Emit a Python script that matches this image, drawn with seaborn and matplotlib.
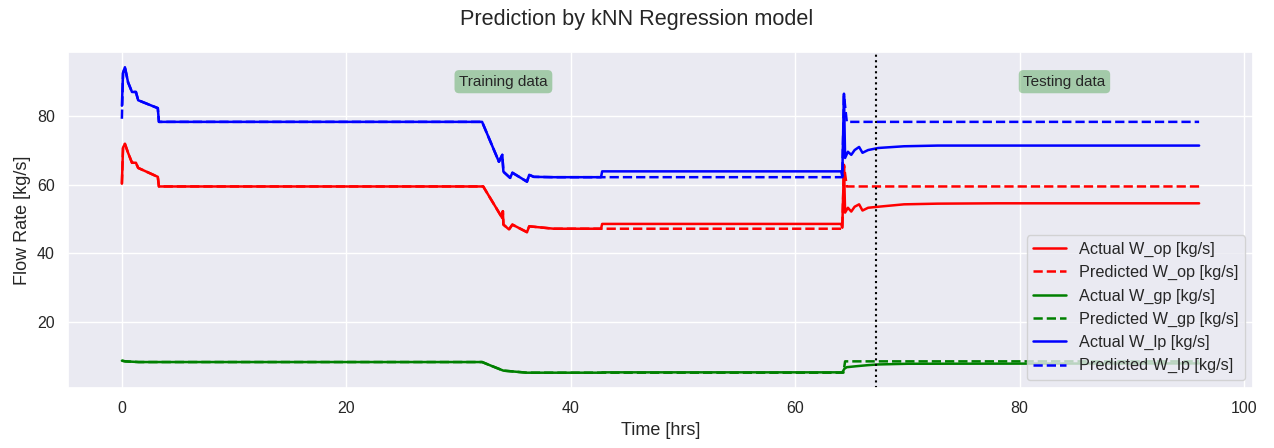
import matplotlib
matplotlib.use("Agg")
import matplotlib.pyplot as plt
import seaborn as sns
import pandas as pd

# ---- oil production rate W_op [kg/s] ----
t_op_actual = [0.0, 0.1, 0.27, 0.55, 0.9, 1.25, 1.45, 3.2, 3.3, 32.2, 33.9, 33.95, 34.0,
               34.5, 34.8, 36.1, 36.3, 38.5, 42.7, 42.8, 64.1, 64.2, 64.35, 64.45, 64.7,
               65.0, 65.3, 65.7, 66.0, 66.5, 67.4, 69.7, 72.7, 78.0, 96.0]
op_actual = [60.3, 70.8, 71.9, 69.3, 66.4, 66.4, 64.9, 62.3, 59.5, 59.5, 50.3, 52.3, 48.4,
             47.0, 48.4, 46.2, 47.9, 47.2, 47.2, 48.6, 48.6, 47.5, 65.8, 51.9, 53.3,
             52.2, 53.6, 54.3, 52.5, 53.3, 53.6, 54.3, 54.5, 54.6, 54.6]
t_op_pred = [0.0, 0.1, 0.27, 0.55, 0.9, 1.25, 1.45, 3.2, 3.3, 32.2, 33.9, 33.95, 34.0,
             34.5, 34.8, 36.1, 36.3, 38.5, 64.2, 64.35, 64.6, 96.0]
op_pred = [60.3, 70.8, 71.9, 69.3, 66.4, 66.4, 64.9, 62.3, 59.5, 59.5, 50.3, 52.3, 48.4,
           47.0, 48.4, 46.2, 47.9, 47.2, 47.2, 65.5, 59.5, 59.5]

# ---- gas production rate W_gp [kg/s] ----
t_gp_actual = [0.0, 0.3, 1.5, 32.1, 33.0, 34.0, 36.1, 42.7, 42.8, 64.2, 64.4, 64.6,
               65.5, 66.5, 67.4, 70.0, 96.0]
gp_actual = [8.8, 8.6, 8.4, 8.4, 7.2, 5.9, 5.3, 5.3, 5.4, 5.4, 6.5, 6.9,
             7.2, 7.5, 7.7, 7.9, 8.0]
t_gp_pred = [0.0, 0.3, 1.5, 32.1, 33.0, 34.0, 36.1, 64.3, 64.45, 96.0]
gp_pred = [8.8, 8.6, 8.4, 8.4, 7.2, 5.9, 5.3, 5.3, 8.6, 8.6]

# ---- liquid production rate W_lp [kg/s] ----
t_lp_actual = [0.0, 0.1, 0.27, 0.55, 0.9, 1.25, 1.45, 3.2, 3.3, 32.1, 33.6, 33.9, 34.0,
               34.6, 34.8, 36.1, 36.3, 36.7, 38.5, 42.7, 42.8, 64.1, 64.2, 64.35, 64.45,
               64.7, 65.0, 65.3, 65.7, 66.0, 66.5, 67.4, 69.7, 72.7, 78.0, 96.0]
lp_actual = [83.0, 92.5, 94.2, 89.8, 87.0, 87.0, 84.6, 82.3, 78.3, 78.3, 66.7, 68.7, 63.8,
             62.0, 63.5, 60.9, 62.9, 62.3, 62.2, 62.2, 63.9, 63.9, 62.5, 86.5, 67.8,
             69.6, 68.7, 70.1, 71.0, 69.3, 70.1, 70.7, 71.2, 71.4, 71.4, 71.4]
t_lp_pred = [0.0, 0.1, 0.27, 0.55, 0.9, 1.25, 1.45, 3.2, 3.3, 32.1, 33.6, 33.9, 34.0,
             34.6, 34.8, 36.1, 36.3, 36.7, 38.5, 64.2, 64.35, 64.6, 96.0]
lp_pred = [79.2, 92.5, 94.2, 89.8, 87.0, 87.0, 84.6, 82.3, 78.3, 78.3, 66.7, 68.7, 63.8,
           62.0, 63.5, 60.9, 62.9, 62.3, 62.2, 62.2, 86.0, 78.3, 78.3]

split_time = 67.2          # end of the training window [hrs]
train_label_pos = (34.0, 90.0)
test_label_pos = (84.0, 90.0)

sns.set_theme(style="darkgrid", context="notebook")
plt.rcParams["font.family"] = ["Liberation Sans", "DejaVu Sans"]

fig, ax = plt.subplots(figsize=(12.74, 4.48), dpi=100)
fig.subplots_adjust(left=0.0534, right=0.9835, top=0.884, bottom=0.134)

series = [
    (t_op_actual, op_actual, "red", "-", "Actual W_op [kg/s]"),
    (t_op_pred, op_pred, "red", "--", "Predicted W_op [kg/s]"),
    (t_gp_actual, gp_actual, "green", "-", "Actual W_gp [kg/s]"),
    (t_gp_pred, gp_pred, "green", "--", "Predicted W_gp [kg/s]"),
    (t_lp_actual, lp_actual, "blue", "-", "Actual W_lp [kg/s]"),
    (t_lp_pred, lp_pred, "blue", "--", "Predicted W_lp [kg/s]"),
]
for t, v, color, ls, label in series:
    df = pd.DataFrame({"t": t, "v": v})
    sns.lineplot(data=df, x="t", y="v", ax=ax, color=color, linestyle=ls,
                 linewidth=1.8, label=label, estimator=None, sort=False)

ax.axvline(split_time, color="black", linestyle=":", linewidth=1.5)

box = dict(boxstyle="round", facecolor="green", edgecolor="none", alpha=0.3)
ax.text(*train_label_pos, "Training data", ha="center", va="center",
        fontsize=11, bbox=box)
ax.text(*test_label_pos, "Testing data", ha="center", va="center",
        fontsize=11, bbox=box)

ax.set_xlabel("Time [hrs]", fontsize=13)
ax.set_ylabel("Flow Rate [kg/s]", fontsize=13)
ax.tick_params(labelsize=11.5)
ax.legend(loc="lower right", fontsize=11.7)
fig.suptitle("Prediction by kNN Regression model", fontsize=15.6)

fig.savefig("out.png", dpi=100)
